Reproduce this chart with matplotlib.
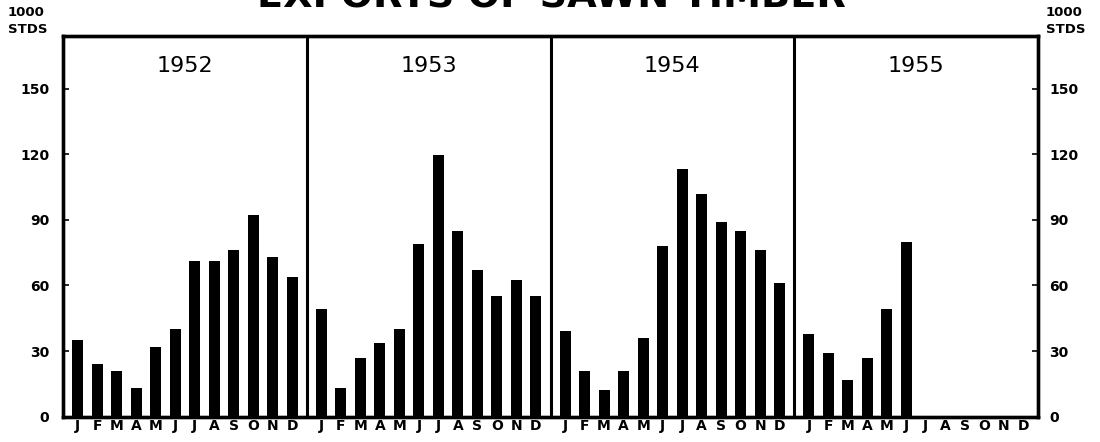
import matplotlib
matplotlib.use("Agg")
import matplotlib.pyplot as plt

years = ["1952", "1953", "1954", "1955"]
months = ["J", "F", "M", "A", "M", "J", "J", "A", "S", "O", "N", "D"]
v1952 = [35, 24, 21, 13, 32, 40, 71, 71, 76, 92, 73, 64]
v1953 = [49, 13, 27, 33.5, 40, 79, 119.5, 85, 67, 55, 62.5, 55]
v1954 = [39, 21, 12, 21, 36, 78, 113, 102, 89, 85, 76, 61]
v1955 = [38, 29, 17, 27, 49, 80]
yticks = [0, 30, 60, 90, 120, 150]
title = "EXPORTS OF SAWN TIMBER"
unit = "1000\nSTDS"

series = [v1952, v1953, v1954, v1955]
panel_w = 12.5
margin = 0.75

fig = plt.figure(figsize=(11, 4.42), dpi=100)
ax = fig.add_axes([63/1100, 1-416.7/442, (1038-63)/1100, (416.7-36)/442])
ax.set_xlim(0, panel_w*4)
ax.set_ylim(0, 174)

xt, xl = [], []
for p, vals in enumerate(series):
    xs = [p*panel_w + margin + i for i in range(len(vals))]
    ax.bar(xs, vals, width=0.56, color="black", zorder=3)
    for i, m in enumerate(months):
        xt.append(p*panel_w + margin + i)
        xl.append(m)
    ax.text(p*panel_w + panel_w/2, 160.5, years[p], ha="center", va="center",
            fontsize=16, color="black")
    if p > 0:
        ax.axvline(p*panel_w, color="black", lw=2.2, zorder=4)

ax.set_xticks(xt)
ax.set_xticklabels(xl, fontsize=10, fontweight="bold")
ax.tick_params(axis="x", length=0, pad=2)
ax.set_yticks(yticks)
ax.set_yticklabels([str(t) for t in yticks], fontsize=10, fontweight="bold")
ax.tick_params(axis="y", direction="in", length=4, width=1.2, pad=10)
for s in ax.spines.values():
    s.set_linewidth(2.4)

ax2 = ax.twinx()
ax2.set_ylim(ax.get_ylim())
ax2.set_yticks(yticks)
ax2.set_yticklabels([str(t) for t in yticks], fontsize=10, fontweight="bold")
ax2.tick_params(axis="y", direction="in", length=4, width=1.2, pad=8)
for s in ax2.spines.values():
    s.set_linewidth(2.4)

fig.text(8/1100, 1-6/442, unit, ha="left", va="top", fontsize=9.5,
         fontweight="bold", linespacing=1.4)
fig.text(1046/1100, 1-6/442, unit, ha="left", va="top", fontsize=9.5,
         fontweight="bold", linespacing=1.4)
fig.text(551/1100, 1-7/442, title, ha="center", va="baseline", fontsize=27.5,
         fontweight="bold")

fig.savefig("out.png", dpi=100)
